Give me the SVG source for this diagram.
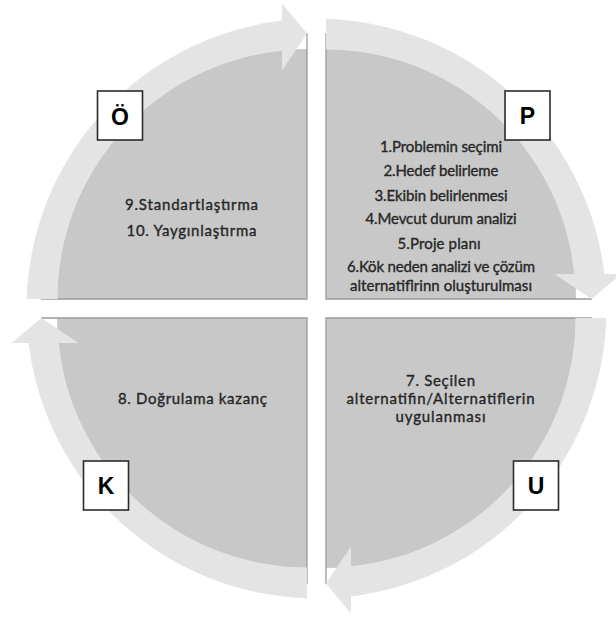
<svg xmlns="http://www.w3.org/2000/svg" width="616" height="620" viewBox="0 0 616 620">
<style>
.wedge{fill:#c8c8c8}
.edge{stroke:#9b9b9b;stroke-width:1.3;fill:none}
.arrow{fill:#e4e4e4}
.t{font-family:Lato,"Open Sans","Liberation Sans",sans-serif;font-size:15px;fill:#262626;stroke:#262626;stroke-width:0.35;text-anchor:middle}
.box{fill:#ffffff;stroke:#2b2b2b;stroke-width:1.6}
.lt{font-family:"Liberation Sans",Arial,sans-serif;font-weight:bold;font-size:23px;fill:#000000;text-anchor:middle}
</style>
<rect width="616" height="620" fill="#ffffff"/>
<g id="quadrant-O">
<path class="wedge" d="M307,299 L57,299 A250,250 0 0 1 307,49 Z"/>
<path class="edge" d="M41,299 H307 V33"/>
<text class="t" x="191.5" y="209.5" textLength="133">9.Standartlaştırma</text>
<text class="t" x="191.5" y="235.5" textLength="130">10. Yaygınlaştırma</text>
</g>
<g id="quadrant-P">
<path class="wedge" d="M326,299 L326,49 A250,250 0 0 1 576,299 Z"/>
<path class="edge" d="M326,33 V299 H592"/>
<text class="t" x="441" y="151.5" textLength="122">1.Problemin seçimi</text>
<text class="t" x="441" y="176" textLength="115">2.Hedef belirleme</text>
<text class="t" x="441" y="200.5" textLength="133">3.Ekibin belirlenmesi</text>
<text class="t" x="441" y="224" textLength="151">4.Mevcut durum analizi</text>
<text class="t" x="439" y="248.5" textLength="83">5.Proje planı</text>
<text class="t" x="441" y="271.5" textLength="188">6.Kök neden analizi ve çözüm</text>
<text class="t" x="441" y="290.5" textLength="182">alternatiflrinn oluşturulması</text>
</g>
<g id="quadrant-U">
<path class="wedge" d="M326,318 L576,318 A250,250 0 0 1 326,568 Z"/>
<path class="edge" d="M592,318 H326 V584"/>
<text class="t" x="440.5" y="385.5" textLength="69">7. Seçilen</text>
<text class="t" x="440.5" y="404" textLength="188">alternatifin/Alternatiflerin</text>
<text class="t" x="440.5" y="422" textLength="90">uygulanması</text>
</g>
<g id="quadrant-K">
<path class="wedge" d="M307,318 L307,568 A250,250 0 0 1 57,318 Z"/>
<path class="edge" d="M307,584 V318 H41"/>
<text class="t" x="192.5" y="404" textLength="149">8. Doğrulama kazanç</text>
</g>
<g id="connectors">
<path class="arrow" d="M26.66,299 A290,290 0 0 1 282,20.56 L282,3.5 L307,33.5 L282,70.5 L282,50.76 A249.5,249.5 0 0 0 57.5,299 Z"/>
<path class="arrow" transform="rotate(90 316.5 308.5)" d="M26.66,299 A290,290 0 0 1 282,20.56 L282,3.5 L307,33.5 L282,70.5 L282,50.76 A249.5,249.5 0 0 0 57.5,299 Z"/>
<path class="arrow" transform="rotate(180 316.5 308.5)" d="M26.66,299 A290,290 0 0 1 282,20.56 L282,3.5 L307,33.5 L282,70.5 L282,50.76 A249.5,249.5 0 0 0 57.5,299 Z"/>
<path class="arrow" transform="rotate(270 316.5 308.5)" d="M26.66,299 A290,290 0 0 1 282,20.56 L282,3.5 L307,33.5 L282,70.5 L282,50.76 A249.5,249.5 0 0 0 57.5,299 Z"/>
</g>
<g id="node-O">
<rect class="box" x="97.5" y="91" width="45" height="49"/>
<text class="lt" x="120" y="124.5">Ö</text>
</g>
<g id="node-P">
<rect class="box" x="505" y="91" width="45" height="49"/>
<text class="lt" x="527.5" y="124">P</text>
</g>
<g id="node-U">
<rect class="box" x="513.5" y="461" width="45" height="49"/>
<text class="lt" x="536" y="494">U</text>
</g>
<g id="node-K">
<rect class="box" x="83.5" y="461" width="45" height="49"/>
<text class="lt" x="106" y="494">K</text>
</g>
</svg>
